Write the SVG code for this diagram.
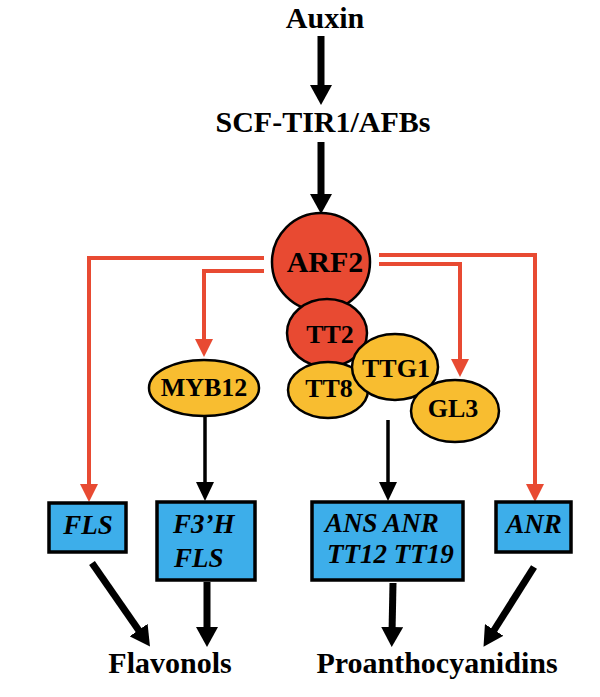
<svg xmlns="http://www.w3.org/2000/svg" width="600" height="697" viewBox="0 0 600 697">
<style>
.lbl{font-family:"Liberation Serif","Times New Roman",serif;font-weight:bold;font-size:30px;fill:#000;text-anchor:middle}
.nt{font-family:"Liberation Serif","Times New Roman",serif;font-weight:bold;font-size:26px;fill:#000;text-anchor:middle}
.bt{font-family:"Liberation Serif","Times New Roman",serif;font-weight:bold;font-style:italic;font-size:27px;fill:#000}
.red{fill:#e84a32;stroke:#000;stroke-width:2.5}
.yel{fill:#f8bd30;stroke:#000;stroke-width:2.5}
.box{fill:#3daeea;stroke:#000;stroke-width:3.5}
.thick{stroke:#000;stroke-width:7;fill:none}
.thin{stroke:#000;stroke-width:3.5;fill:none}
.rl{stroke:#e84a32;stroke-width:4;fill:none}
</style>
<defs>
<marker id="bk" markerUnits="userSpaceOnUse" viewBox="0 0 20 22" markerWidth="20" markerHeight="22" refX="6" refY="11" orient="auto"><path d="M0,0 L20,11 L0,22 z" fill="#000"/></marker>
<marker id="bs" markerUnits="userSpaceOnUse" viewBox="0 0 19 18" markerWidth="19" markerHeight="18" refX="5" refY="9" orient="auto"><path d="M0,0 L19,9 L0,18 z" fill="#000"/></marker>
<marker id="rd" markerUnits="userSpaceOnUse" viewBox="0 0 18 18" markerWidth="18" markerHeight="18" refX="4" refY="9" orient="auto"><path d="M0,0 L18,9 L0,18 z" fill="#e84a32"/></marker>
</defs>
<g id="connectors">
<line class="thick" x1="321" y1="36" x2="321" y2="91" marker-end="url(#bk)"/>
<line class="thick" x1="321" y1="142" x2="321" y2="200" marker-end="url(#bk)"/>
<path class="rl" d="M264,258 H89 V488" marker-end="url(#rd)"/>
<path class="rl" d="M264,271 H204 V343" marker-end="url(#rd)"/>
<path class="rl" d="M379,264 H460 V363" marker-end="url(#rd)"/>
<path class="rl" d="M379,255 H535 V488" marker-end="url(#rd)"/>
<line class="thin" x1="205" y1="416" x2="205" y2="487" marker-end="url(#bs)"/>
<line class="thin" x1="388" y1="420" x2="388" y2="487" marker-end="url(#bs)"/>
<line class="thick" x1="92" y1="563" x2="142" y2="635" marker-end="url(#bk)"/>
<line class="thick" x1="207" y1="582" x2="207" y2="633" marker-end="url(#bk)"/>
<line class="thick" x1="393" y1="583" x2="392" y2="633" marker-end="url(#bk)"/>
<line class="thick" x1="534" y1="567" x2="491" y2="635" marker-end="url(#bk)"/>
</g>
<g id="auxin"><text class="lbl" x="325" y="28">Auxin</text></g>
<g id="scf"><text class="lbl" x="323" y="132">SCF-TIR1/AFBs</text></g>
<g id="arf2"><circle class="red" cx="321" cy="262" r="49"/><text class="nt" x="325" y="272" style="font-size:30px">ARF2</text></g>
<g id="tt2"><ellipse class="red" cx="327" cy="333" rx="40" ry="34"/><text class="nt" x="330" y="343">TT2</text></g>
<g id="tt8"><ellipse class="yel" cx="328" cy="390" rx="40" ry="28"/><text class="nt" x="329" y="397">TT8</text></g>
<g id="ttg1"><ellipse class="yel" cx="395" cy="367" rx="43" ry="33"/><text class="nt" x="396" y="377">TTG1</text></g>
<g id="gl3"><ellipse class="yel" cx="455" cy="411" rx="44" ry="31"/><text class="nt" x="453" y="417">GL3</text></g>
<g id="myb12"><ellipse class="yel" cx="204" cy="388" rx="55" ry="28"/><text class="nt" x="204" y="396">MYB12</text></g>
<g id="fls"><rect class="box" x="49" y="503" width="77" height="49"/><text class="bt" x="88" y="534" text-anchor="middle">FLS</text></g>
<g id="f3h"><rect class="box" x="157" y="502" width="98" height="78"/><text class="bt" x="173" y="533">F3’H</text><text class="bt" x="174" y="567">FLS</text></g>
<g id="ans"><rect class="box" x="312" y="502" width="151" height="78"/><text class="bt" x="325" y="532">ANS ANR</text><text class="bt" x="327" y="563">TT12 TT19</text></g>
<g id="anr"><rect class="box" x="496" y="502" width="75" height="50"/><text class="bt" x="534" y="533" text-anchor="middle">ANR</text></g>
<g id="flavonols"><text class="lbl" x="170" y="673">Flavonols</text></g>
<g id="proantho"><text class="lbl" x="437" y="673">Proanthocyanidins</text></g>
</svg>
